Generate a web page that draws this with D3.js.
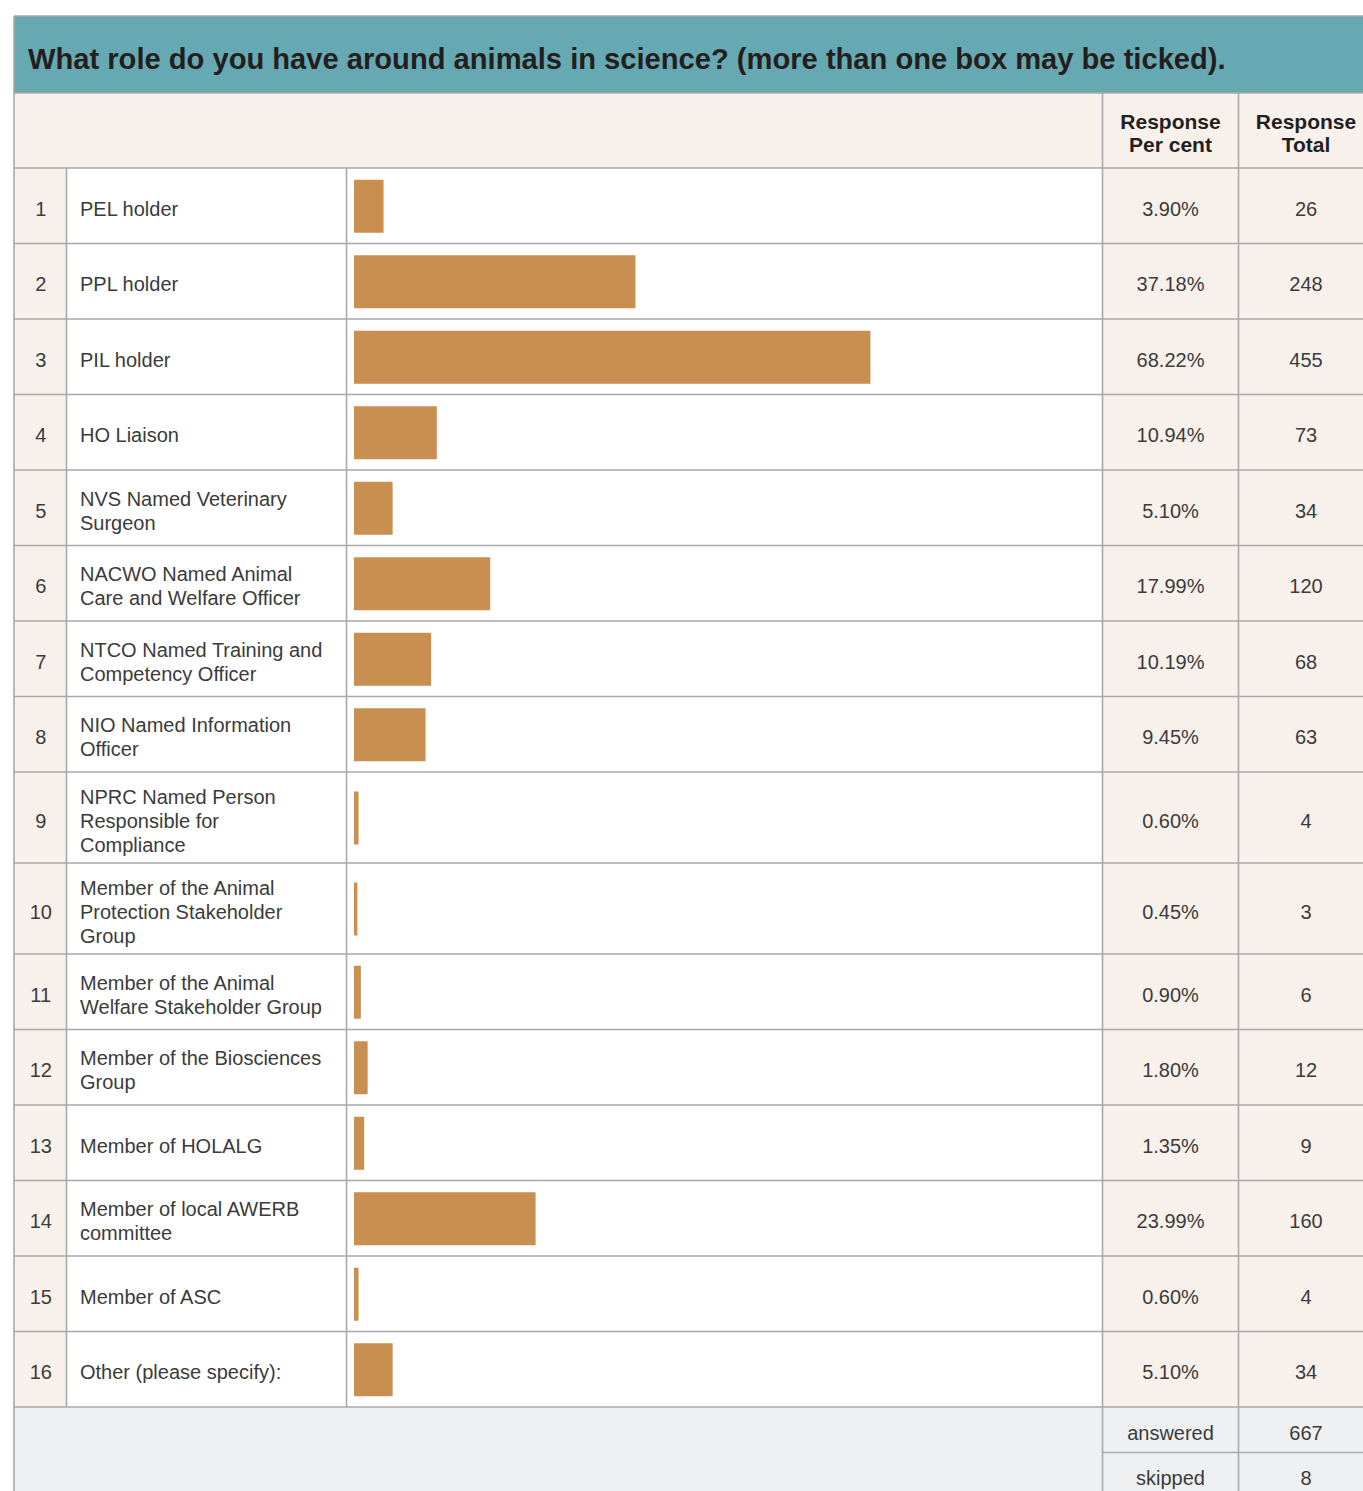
<!DOCTYPE html>
<html>
<head>
<meta charset="utf-8">
<script src="https://cdn.jsdelivr.net/npm/d3@7"></script>
<style>
  html, body { margin: 0; padding: 0; background: #ffffff; }
  svg { display: block; }
  text { font-family: "Liberation Sans", Arial, Helvetica, sans-serif; }
</style>
</head>
<body>
<script>
// Survey question: roles around animals in science
const title = "What role do you have around animals in science? (more than one box may be ticked).";
const headerPercent = ["Response", "Per cent"];
const headerTotal = ["Response", "Total"];

const rowNumbers = [1, 2, 3, 4, 5, 6, 7, 8, 9, 10, 11, 12, 13, 14, 15, 16];
const roleLabels = [
  ["PEL holder"],
  ["PPL holder"],
  ["PIL holder"],
  ["HO Liaison"],
  ["NVS Named Veterinary", "Surgeon"],
  ["NACWO Named Animal", "Care and Welfare Officer"],
  ["NTCO Named Training and", "Competency Officer"],
  ["NIO Named Information", "Officer"],
  ["NPRC Named Person", "Responsible for", "Compliance"],
  ["Member of the Animal", "Protection Stakeholder", "Group"],
  ["Member of the Animal", "Welfare Stakeholder Group"],
  ["Member of the Biosciences", "Group"],
  ["Member of HOLALG"],
  ["Member of local AWERB", "committee"],
  ["Member of ASC"],
  ["Other (please specify):"]
];
const responsePercent = [3.90, 37.18, 68.22, 10.94, 5.10, 17.99, 10.19, 9.45, 0.60, 0.45, 0.90, 1.80, 1.35, 23.99, 0.60, 5.10];
const responseTotal = [26, 248, 455, 73, 34, 120, 68, 63, 4, 3, 6, 12, 9, 160, 4, 34];
const footerLabels = ["answered", "skipped"];
const footerValues = [667, 8];

// Layout
const W = 1363, H = 1491;
const left = 14, right = W + 2;
const titleTop = 16, titleBottom = 93, headerBottom = 168;
const colNum = 66.5, colLabel = 346.5, colPct = 1102.5, colTot = 1238.5;
const pctCenter = (colPct + colTot) / 2, totCenter = 1306;
const rowBase = 75.5, rowThree = 91;
const footerRow = 45.5;
const barInset = 7.5, barHeight = 53;
const lineGap = 24;
const baselineShift = 10;

const C = {
  teal: "#67a9b2",
  cream: "#f8f1eb",
  white: "#ffffff",
  footer: "#eff0f2",
  grid: "#a9a9a9",
  bar: "#c98f51",
  text: "#3b3b3b",
  dark: "#231f20"
};

// Row boundaries derived from each label's number of lines
const rows = [];
let yCursor = headerBottom;
rowNumbers.forEach((n, i) => {
  const h = roleLabels[i].length >= 3 ? rowThree : rowBase;
  rows.push({ n, label: roleLabels[i], pct: responsePercent[i], total: responseTotal[i], y0: yCursor, y1: yCursor + h });
  yCursor += h;
});
const tableBottom = yCursor;

const x = d3.scaleLinear().domain([0, 100]).range([colLabel + barInset, colLabel + barInset + 757]);

const svg = d3.select("body").append("svg").attr("width", W).attr("height", H);

// Title band
svg.append("rect").attr("x", left).attr("y", titleTop).attr("width", right - left).attr("height", titleBottom - titleTop).attr("fill", C.teal);
const titleText = svg.append("text")
  .attr("x", 28).attr("y", 69)
  .attr("font-size", 27).attr("font-weight", "bold").attr("fill", C.dark)
  .text(title);
const tl = titleText.node().getComputedTextLength();
titleText.attr("font-size", 27 * 1198 / tl);

// Column header band
svg.append("rect").attr("x", left).attr("y", titleBottom).attr("width", right - left).attr("height", headerBottom - titleBottom).attr("fill", C.cream);
[[headerPercent, pctCenter], [headerTotal, totCenter]].forEach(([lines, cx]) => {
  svg.append("text").attr("x", cx).attr("y", 129).attr("text-anchor", "middle")
    .attr("font-size", 21).attr("font-weight", "bold").attr("fill", C.dark)
    .selectAll("tspan").data(lines).join("tspan")
    .attr("x", cx).attr("dy", (d, i) => i === 0 ? 0 : 23).text(d => d);
});

// Body rows
const g = svg.append("g");
const row = g.selectAll("g.row").data(rows).join("g").attr("class", "row");

row.append("rect").attr("x", left).attr("y", d => d.y0).attr("width", colNum - left).attr("height", d => d.y1 - d.y0).attr("fill", C.cream);
row.append("rect").attr("x", colNum).attr("y", d => d.y0).attr("width", colPct - colNum).attr("height", d => d.y1 - d.y0).attr("fill", C.white);
row.append("rect").attr("x", colPct).attr("y", d => d.y0).attr("width", right - colPct).attr("height", d => d.y1 - d.y0).attr("fill", C.cream);

row.append("rect")
  .attr("x", x(0))
  .attr("y", d => (d.y0 + d.y1) / 2 - barHeight / 2 + 0.5)
  .attr("width", d => x(d.pct) - x(0))
  .attr("height", barHeight)
  .attr("fill", C.bar);

row.append("text")
  .attr("x", (left + colNum) / 2 + 0.5)
  .attr("y", d => (d.y0 + d.y1) / 2 + baselineShift)
  .attr("text-anchor", "middle").attr("font-size", 20).attr("fill", C.text)
  .text(d => d.n);

row.append("text")
  .attr("font-size", 20).attr("fill", C.text)
  .each(function (d) {
    const n = d.label.length;
    const cy = (d.y0 + d.y1) / 2;
    d3.select(this).selectAll("tspan").data(d.label).join("tspan")
      .attr("x", 80)
      .attr("y", (t, i) => cy + baselineShift + (i - (n - 1) / 2) * lineGap)
      .text(t => t);
  });

row.append("text")
  .attr("x", pctCenter)
  .attr("y", d => (d.y0 + d.y1) / 2 + baselineShift)
  .attr("text-anchor", "middle").attr("font-size", 20).attr("fill", C.text)
  .text(d => d.pct.toFixed(2) + "%");

row.append("text")
  .attr("x", totCenter)
  .attr("y", d => (d.y0 + d.y1) / 2 + baselineShift)
  .attr("text-anchor", "middle").attr("font-size", 20).attr("fill", C.text)
  .text(d => d.total);

// Footer: answered / skipped
svg.append("rect").attr("x", left).attr("y", tableBottom).attr("width", right - left).attr("height", H - tableBottom + 10).attr("fill", C.footer);
footerLabels.forEach((lab, i) => {
  const cy = tableBottom + i * footerRow + footerRow / 2;
  svg.append("text").attr("x", pctCenter).attr("y", cy + baselineShift).attr("text-anchor", "middle")
    .attr("font-size", 20).attr("fill", C.text).text(lab);
  svg.append("text").attr("x", totCenter).attr("y", cy + baselineShift).attr("text-anchor", "middle")
    .attr("font-size", 20).attr("fill", C.text).text(footerValues[i]);
});

// Grid lines
const grid = svg.append("g").attr("stroke", C.grid).attr("stroke-width", 1.6).attr("fill", "none");
const hLines = [titleTop, titleBottom, headerBottom, ...rows.map(r => r.y1), tableBottom + footerRow];
hLines.forEach((y, i) => {
  const x0 = (i === hLines.length - 1) ? colPct : left;
  grid.append("line").attr("x1", x0).attr("x2", right).attr("y1", y).attr("y2", y);
});
grid.append("line").attr("x1", left).attr("x2", left).attr("y1", titleTop).attr("y2", H + 2);
[colNum, colLabel].forEach(cx => grid.append("line").attr("x1", cx).attr("x2", cx).attr("y1", headerBottom).attr("y2", tableBottom));
[colPct, colTot].forEach(cx => grid.append("line").attr("x1", cx).attr("x2", cx).attr("y1", titleBottom).attr("y2", H + 2));
</script>
</body>
</html>
